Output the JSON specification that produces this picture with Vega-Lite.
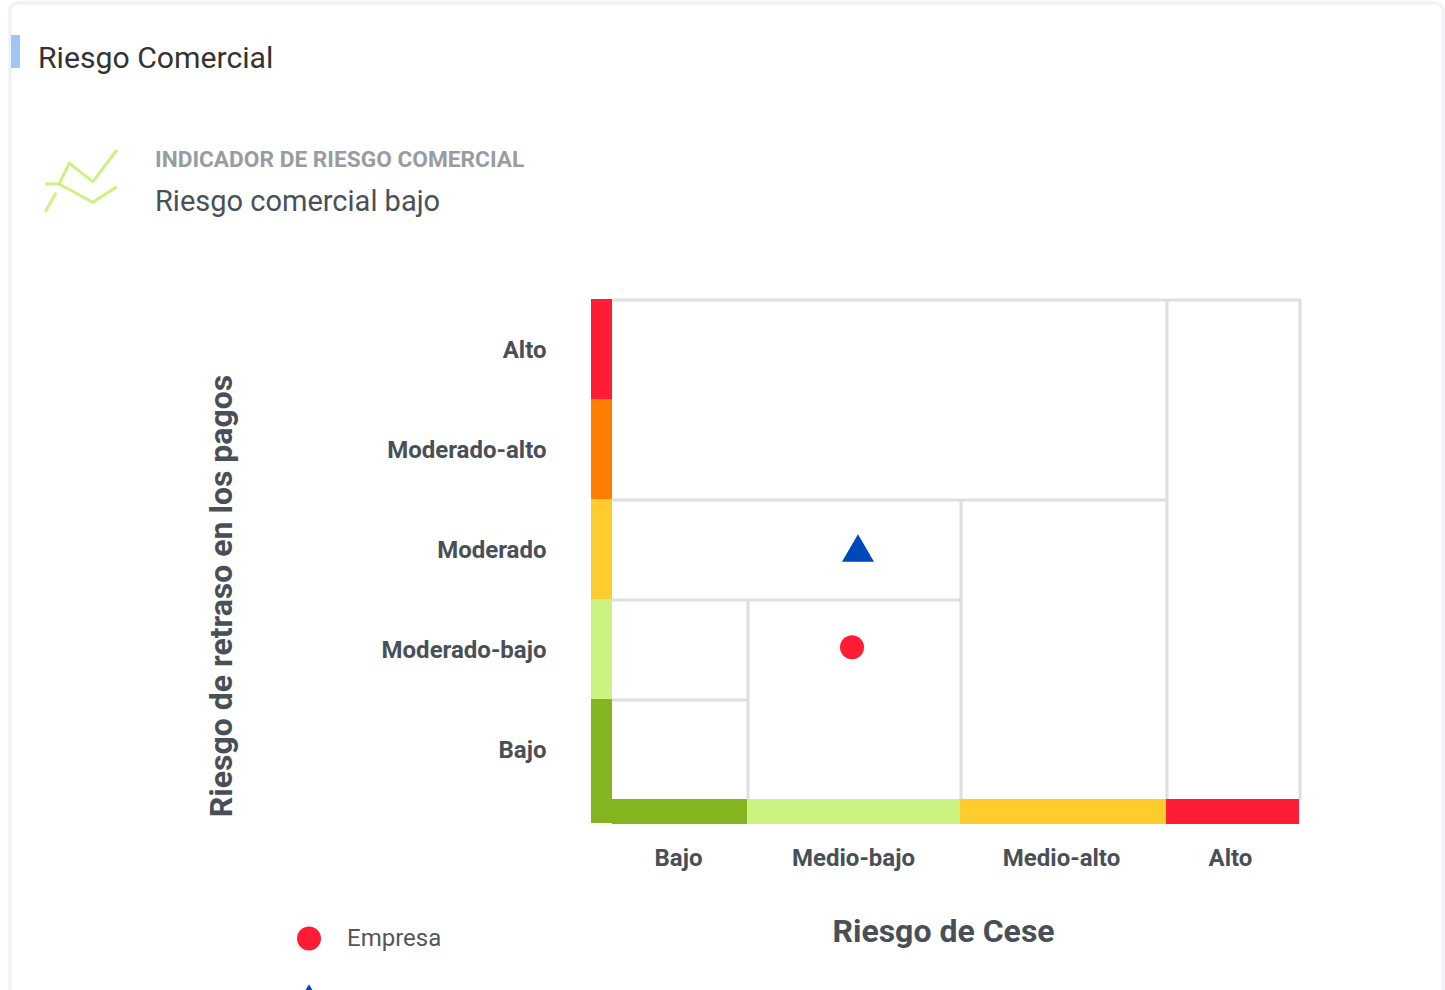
{"$schema":"https://vega.github.io/schema/vega-lite/v6.json","width":687,"height":500,"autosize":{"type":"none"},"padding":{"left":612,"top":300,"right":146,"bottom":190},"background":"white","config":{"view":{"stroke":null}},
"datasets":{
"grid":[{"x":0,"x2":688,"y":500,"y2":500},{"x":688,"x2":688,"y":501,"y2":0},{"x":555,"x2":555,"y":500,"y2":0},{"x":0,"x2":555,"y":300,"y2":300},{"x":349,"x2":349,"y":300,"y2":0},{"x":0,"x2":349,"y":200,"y2":200},{"x":136,"x2":136,"y":200,"y2":0},{"x":0,"x2":136,"y":100,"y2":100}],
"bars":[{"nivel":"Alto","x":-21,"x2":0,"y":501,"y2":401},{"nivel":"Moderado-alto","x":-21,"x2":0,"y":401,"y2":301},{"nivel":"Moderado","x":-21,"x2":0,"y":301,"y2":201},{"nivel":"Moderado-bajo","x":-21,"x2":0,"y":201,"y2":101},{"nivel":"Bajo","x":-21,"x2":0,"y":101,"y2":-23},{"nivel":"Bajo","x":0,"x2":135,"y":1,"y2":-24},{"nivel":"Moderado-bajo","x":135,"x2":348,"y":1,"y2":-24},{"nivel":"Moderado","x":348,"x2":554,"y":1,"y2":-24},{"nivel":"Alto","x":554,"x2":687,"y":1,"y2":-24}],
"points":[{"serie":"Empresa","x":240,"y":152.7},{"serie":"Sector","x":246,"y":252}],
"icon":[{"tramo":"a","orden":1,"x":-566.6,"y":588.3},{"tramo":"a","orden":2,"x":-556,"y":607.3},{"tramo":"b","orden":1,"x":-567,"y":616},{"tramo":"b","orden":2,"x":-553,"y":616},{"tramo":"b","orden":3,"x":-519.1,"y":597.7},{"tramo":"b","orden":4,"x":-495.2,"y":613.3},{"tramo":"c","orden":1,"x":-553,"y":616},{"tramo":"c","orden":2,"x":-542.7,"y":636.7},{"tramo":"c","orden":3,"x":-519.1,"y":618.3},{"tramo":"c","orden":4,"x":-495.2,"y":650}]
},
"encoding":{
"x":{"field":"x","type":"quantitative","scale":{"domain":[0,687],"nice":false,"zero":false},"axis":{"values":[66,241,449,618],"labelExpr":"datum.value==66?'Bajo':datum.value==241?'Medio-bajo':datum.value==449?'Medio-alto':'Alto'","domain":false,"ticks":false,"grid":false,"labelFont":"Roboto","labelFontWeight":"bold","labelFontSize":24,"labelColor":"#494f57","labelBaseline":"middle","labelPadding":58,"labelFlush":false,"labelOverlap":false,"title":"Riesgo de Cese","titleFont":"Roboto","titleFontWeight":"bold","titleFontSize":32,"titleColor":"#494f57","titleX":331,"titleY":131,"titleBaseline":"middle","titleAlign":"center"}},
"y":{"field":"y","type":"quantitative","scale":{"domain":[0,500],"nice":false,"zero":false},"axis":{"values":[50,150,250,350,450],"labelExpr":"datum.value==50?'Bajo':datum.value==150?'Moderado-bajo':datum.value==250?'Moderado':datum.value==350?'Moderado-alto':'Alto'","domain":false,"ticks":false,"grid":false,"labelFont":"Roboto","labelFontWeight":"bold","labelFontSize":24,"labelColor":"#494f57","labelPadding":66,"labelFlush":false,"labelOverlap":false,"title":"Riesgo de retraso en los pagos","titleFont":"Roboto","titleFontWeight":"bold","titleFontSize":32,"titleColor":"#494f57","titleX":-390.5,"titleY":295.5,"titleBaseline":"middle","titleAlign":"center"}}
},
"layer":[
{"data":{"values":[{"x":-602,"x2":831,"y":797,"y2":-300}]},"mark":{"type":"rect","fill":null,"stroke":"#eff3f8","strokeWidth":3.5,"cornerRadius":8,"clip":false},"encoding":{"x2":{"field":"x2"},"y2":{"field":"y2"}}},
{"data":{"values":[{"x":-601,"x2":-592,"y":765,"y2":732}]},"mark":{"type":"rect","fill":"#a0c6f7"},"encoding":{"x2":{"field":"x2"},"y2":{"field":"y2"}}},
{"data":{"values":[{"x":-574,"y":732,"texto":"Riesgo Comercial"}]},"mark":{"type":"text","font":"Roboto","fontSize":30.2,"align":"left","baseline":"alphabetic","color":"#333333"},"encoding":{"text":{"field":"texto"}}},
{"data":{"values":[{"x":-457,"y":633.5,"texto":"INDICADOR DE RIESGO COMERCIAL"}]},"mark":{"type":"text","font":"Roboto","fontWeight":"bold","fontSize":22.7,"align":"left","baseline":"alphabetic","color":"#999ca0"},"encoding":{"text":{"field":"texto"}}},
{"data":{"values":[{"x":-457,"y":589,"texto":"Riesgo comercial bajo"}]},"mark":{"type":"text","font":"Roboto","fontSize":29,"align":"left","baseline":"alphabetic","color":"#4a5059"},"encoding":{"text":{"field":"texto"}}},
{"data":{"name":"icon"},"mark":{"type":"line","stroke":"#ccf381","strokeWidth":3,"clip":false},"encoding":{"detail":{"field":"tramo"},"order":{"field":"orden"}}},
{"data":{"name":"grid"},"mark":{"type":"rule","stroke":"#dcdfdf","strokeWidth":3},"encoding":{"x2":{"field":"x2"},"y2":{"field":"y2"}}},
{"data":{"name":"bars"},"mark":{"type":"rect"},"encoding":{"x2":{"field":"x2"},"y2":{"field":"y2"},"fill":{"field":"nivel","type":"nominal","legend":null,"scale":{"domain":["Alto","Moderado-alto","Moderado","Moderado-bajo","Bajo"],"range":["#ff1d36","#ff7d00","#ffcc2e","#ccf381","#84b521"]}}}},
{"data":{"name":"points"},"mark":{"type":"point","filled":true,"opacity":1},"encoding":{
"color":{"field":"serie","type":"nominal","scale":{"domain":["Empresa","Sector"],"range":["#ff1d36","#0047bb"]},"legend":{"orient":"none","legendX":-319,"legendY":626.5,"labelFont":"Roboto","labelFontSize":24,"labelColor":"#52575f","labelOffset":22,"rowPadding":31.5,"symbolStrokeWidth":0,"title":null,"labelExpr":"datum.label=='Empresa'?datum.label:''"}},
"shape":{"field":"serie","type":"nominal","scale":{"domain":["Empresa","Sector"],"range":["circle","triangle-up"]},"legend":{"orient":"none","legendX":-319,"legendY":626.5,"labelFont":"Roboto","labelFontSize":24,"labelColor":"#52575f","labelOffset":22,"rowPadding":31.5,"symbolStrokeWidth":0,"title":null,"labelExpr":"datum.label=='Empresa'?datum.label:''"}},
"size":{"field":"serie","type":"ordinal","scale":{"domain":["Empresa","Sector"],"range":[576,1024]},"legend":{"orient":"none","legendX":-319,"legendY":626.5,"labelFont":"Roboto","labelFontSize":24,"labelColor":"#52575f","labelOffset":22,"rowPadding":31.5,"symbolStrokeWidth":0,"title":null,"labelExpr":"datum.label=='Empresa'?datum.label:''"}}
}}
]
}
